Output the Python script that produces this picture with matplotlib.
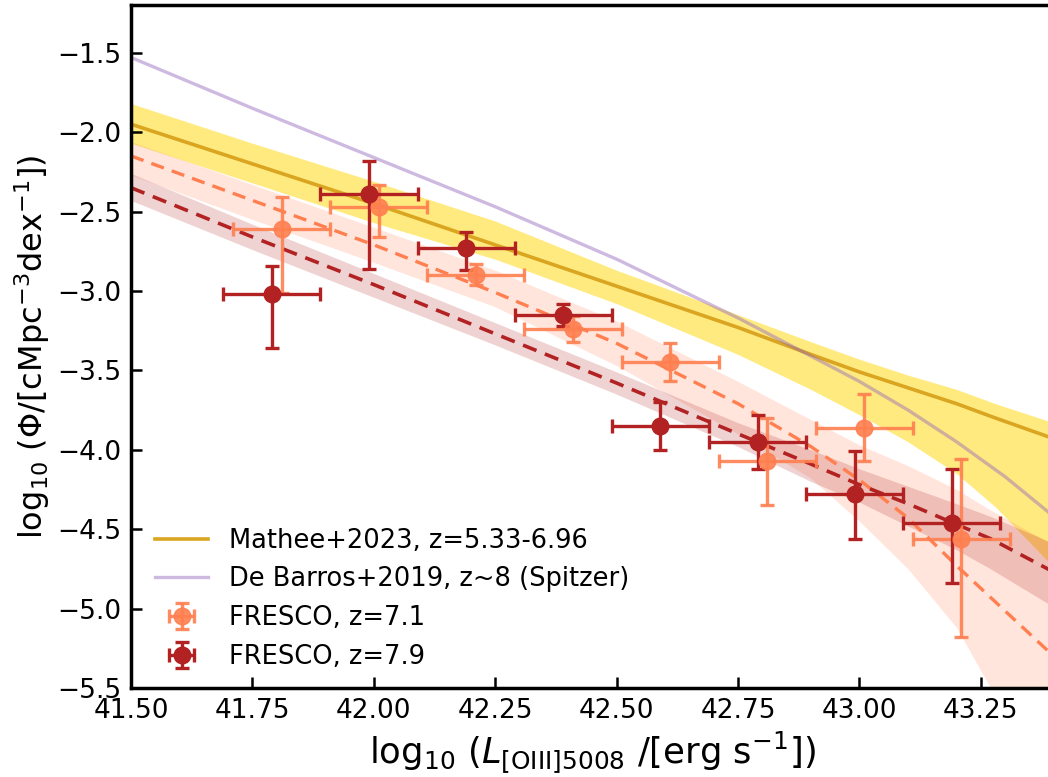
import matplotlib
matplotlib.use("Agg")
import matplotlib.pyplot as plt
import numpy as np

# FRESCO [OIII] luminosity function points
x_z71 = [41.81, 42.01, 42.21, 42.41, 42.61, 42.81, 43.01, 43.21]
y_z71 = [-2.61, -2.47, -2.90, -3.24, -3.45, -4.07, -3.86, -4.56]
yup_z71 = [0.20, 0.14, 0.07, 0.08, 0.12, 0.27, 0.21, 0.50]
ylo_z71 = [0.40, 0.19, 0.06, 0.08, 0.12, 0.28, 0.21, 0.62]

x_z79 = [41.79, 41.99, 42.19, 42.39, 42.59, 42.79, 42.99, 43.19]
y_z79 = [-3.02, -2.39, -2.73, -3.15, -3.85, -3.95, -4.28, -4.46]
yup_z79 = [0.18, 0.21, 0.10, 0.07, 0.15, 0.17, 0.27, 0.34]
ylo_z79 = [0.34, 0.47, 0.14, 0.07, 0.15, 0.17, 0.28, 0.38]

xerr_bin = 0.1

# Matthee+2023 fit and band
x_mat = [41.5, 41.75, 42.0, 42.25, 42.5, 42.75, 42.9, 43.0, 43.1, 43.2, 43.28, 43.4]
y_mat = [-1.95, -2.20, -2.45, -2.71, -2.97, -3.23, -3.40, -3.51, -3.61, -3.71, -3.80, -3.93]
hi_mat = [-1.82, -2.07, -2.31, -2.56, -2.87, -3.15, -3.32, -3.43, -3.53, -3.62, -3.71, -3.83]
lo_mat = [-2.07, -2.32, -2.57, -2.80, -3.08, -3.40, -3.62, -3.78, -3.95, -4.15, -4.36, -4.74]

# De Barros+2019
x_db = [41.5, 41.75, 42.0, 42.25, 42.5, 42.75, 42.9, 43.0, 43.1, 43.2, 43.3, 43.4]
y_db = [-1.53, -1.85, -2.16, -2.47, -2.80, -3.17, -3.41, -3.57, -3.75, -3.95, -4.17, -4.42]

# FRESCO fits with bands
x_fit = [41.5, 41.75, 42.0, 42.25, 42.5, 42.75, 42.9, 43.0, 43.1, 43.2, 43.27, 43.4]
y_fit71 = [-2.15, -2.43, -2.71, -3.01, -3.33, -3.71, -3.98, -4.19, -4.43, -4.73, -4.93, -5.30]
hi_fit71 = [-2.06, -2.33, -2.60, -2.87, -3.19, -3.57, -3.81, -3.97, -4.10, -4.25, -4.38, -4.60]
lo_fit71 = [-2.27, -2.55, -2.82, -3.10, -3.47, -3.90, -4.18, -4.45, -4.75, -5.12, -5.50, -5.95]

y_fit79 = [-2.35, -2.66, -2.96, -3.27, -3.58, -3.90, -4.09, -4.22, -4.34, -4.47, -4.56, -4.77]
hi_fit79 = [-2.26, -2.58, -2.89, -3.20, -3.51, -3.83, -4.00, -4.12, -4.23, -4.34, -4.42, -4.59]
lo_fit79 = [-2.43, -2.74, -3.04, -3.34, -3.65, -3.98, -4.20, -4.33, -4.48, -4.63, -4.75, -4.99]

c71 = "coral"
c79 = "firebrick"

fig = plt.figure(figsize=(10.48, 7.77), dpi=100)
# right spine falls just outside the canvas, as in the cropped original
ax = fig.add_axes([0.125, 0.1145, 0.8805, 0.879])

ax.fill_between(x_mat, lo_mat, hi_mat, color="gold", alpha=0.5, lw=0)
ax.fill_between(x_fit, lo_fit71, hi_fit71, color=c71, alpha=0.2, lw=0)
ax.fill_between(x_fit, lo_fit79, hi_fit79, color=c79, alpha=0.2, lw=0)

ax.plot(x_mat, y_mat, color="goldenrod", lw=2.6, label="Mathee+2023, z=5.33-6.96")
ax.plot(x_db, y_db, color="tab:purple", alpha=0.45, lw=2.4,
        label="De Barros+2019, z~8 (Spitzer)")
ax.plot(x_fit, y_fit71, color=c71, lw=2.4, ls="--", dashes=(4, 2.5))
ax.plot(x_fit, y_fit79, color=c79, lw=2.6, ls="--", dashes=(4, 2.5))

ax.errorbar(x_z71, y_z71, xerr=xerr_bin, yerr=[ylo_z71, yup_z71], fmt="o",
            color=c71, alpha=0.9, ms=12, elinewidth=2.4, capsize=5, capthick=2.4,
            label="FRESCO, z=7.1")
ax.errorbar(x_z79, y_z79, xerr=xerr_bin, yerr=[ylo_z79, yup_z79], fmt="o",
            color=c79, ms=12, elinewidth=2.4, capsize=5, capthick=2.4,
            label="FRESCO, z=7.9")

ax.set_xlim(41.5, 43.4)
ax.set_ylim(-5.5, -1.2)
ax.set_xticks([41.5, 41.75, 42.0, 42.25, 42.5, 42.75, 43.0, 43.25])
ax.xaxis.set_major_formatter(matplotlib.ticker.FormatStrFormatter("%.2f"))

for s in ax.spines.values():
    s.set_linewidth(2.5)
ax.tick_params(direction="in", length=8, width=1.8, labelsize=19, pad=7,
               top=False, right=False)

ax.set_xlabel(r"$\log_{10}\,(L_{\rm [OIII]5008}\ /[\rm erg\ s^{-1}])$", fontsize=25.5)
ax.set_ylabel(r"$\log_{10}\,(\Phi/[\rm cMpc^{-3}dex^{-1}])$", fontsize=23)

ax.legend(loc="lower left", bbox_to_anchor=(0.006, 0.0), frameon=False,
          fontsize=18.5, handlelength=2.1, borderaxespad=0.3, labelspacing=0.5)

fig.savefig("out.png", dpi=100)
